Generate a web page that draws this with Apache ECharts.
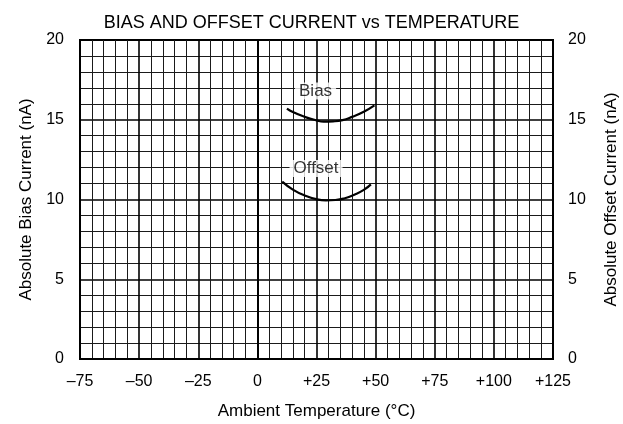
<!DOCTYPE html>
<html><head><meta charset="utf-8">
<script src="https://cdn.jsdelivr.net/npm/echarts@6/dist/echarts.min.js"></script>
<style>html,body{margin:0;padding:0;background:#fff}#c{width:623px;height:424px}</style>
</head><body><div id="c"></div>
<script>
const xTicks = [-75, -50, -25, 0, 25, 50, 75, 100, 125];
const xTickLabels = ['–75', '–50', '–25', '0', '+25', '+50', '+75', '+100', '+125'];
const yTicks = [0, 5, 10, 15, 20];
const biasCurve = [[12.5,15.7],[15,15.48],[20,15.18],[25,14.96],[28,14.88],[32,14.9],[36,14.98],[40,15.18],[45,15.5],[49.5,15.9]];
const offsetCurve = [[10.5,11.12],[15,10.62],[20,10.25],[25,10.02],[29,9.95],[33,9.97],[37,10.08],[41,10.3],[45,10.6],[48,10.95]];
const curveLabels = [{name:'Bias', value:[24.6,16.8]},{name:'Offset', value:[24.8,11.95]}];

const font = 'Liberation Sans, Arial, sans-serif';
const chart = echarts.init(document.getElementById('c'), null, {renderer:'canvas'});
const yAxisBase = (pos, name, nameGap, margin) => ({
  type:'value', position:pos, min:0, max:20, interval:5,
  name:name, nameLocation:'middle', nameGap:nameGap,
  nameTextStyle:{color:'#000', fontSize:17, fontFamily:font},
  axisLine:{show:true, lineStyle:{color:'#000', width:2}},
  axisTick:{show:false},
  axisLabel:{color:'#000', fontSize:16, fontFamily:font, margin:margin,
    formatter:v=>yTicks.indexOf(v)>=0?String(v):''},
  splitLine:{show:pos==='left', lineStyle:{color:'#000', width:1.6}},
  minorTick:{show:false, splitNumber:5},
  minorSplitLine:{show:pos==='left', lineStyle:{color:'#1a1a1a', width:1}}
});
chart.setOption({
  animation:false,
  title:{text:'BIAS AND OFFSET CURRENT vs TEMPERATURE', left:'center', top:9,
    textStyle:{color:'#000', fontSize:18, fontWeight:'normal', fontFamily:font}},
  grid:{left:80, right:70, top:40, bottom:65, containLabel:false, outerBoundsMode:'none',
    show:true, borderColor:'#000', borderWidth:2, backgroundColor:'#fff'},
  xAxis:{type:'value', min:-75, max:125, interval:25,
    name:'Ambient Temperature (°C)', nameLocation:'middle', nameGap:44,
    nameTextStyle:{color:'#000', fontSize:17, fontFamily:font},
    axisLine:{show:true, onZero:false, lineStyle:{color:'#000', width:2}},
    axisTick:{show:false},
    axisLabel:{color:'#000', fontSize:16, fontFamily:font, margin:15,
      formatter:v=>{const i=xTicks.indexOf(v); return i>=0?xTickLabels[i]:'';}},
    splitLine:{show:true, lineStyle:{color:'#000', width:1.6}},
    minorTick:{show:false, splitNumber:5},
    minorSplitLine:{show:true, lineStyle:{color:'#1a1a1a', width:1}}
  },
  yAxis:[yAxisBase('left','Absolute Bias Current (nA)',33,16), yAxisBase('right','Absolute Offset Current (nA)',50,15)],
  series:[
    {type:'line', data:biasCurve, smooth:true, showSymbol:false, lineStyle:{color:'#000', width:2.2}, z:5},
    {type:'line', data:offsetCurve, smooth:true, showSymbol:false, lineStyle:{color:'#000', width:2.2}, z:5},
    {type:'scatter', data:curveLabels, symbolSize:0, z:6,
      label:{show:true, position:'inside', formatter:p=>p.name, color:'#000', fontSize:17, fontFamily:font,
        backgroundColor:'#fff', padding:[0,4,0,4]}}
  ]
});
</script></body></html>
